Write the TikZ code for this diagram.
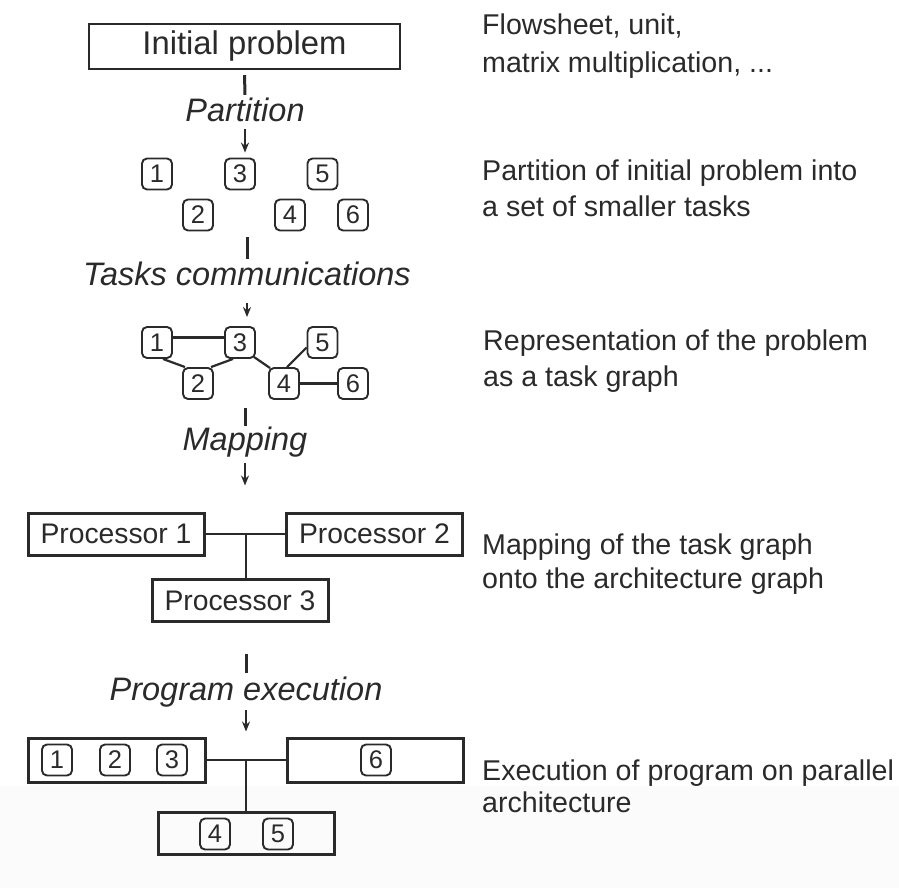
\documentclass[tikz,border=0pt]{standalone}
\usepackage{fontspec}
\setmainfont{Liberation Sans}
\usetikzlibrary{arrows.meta}
\definecolor{ink}{HTML}{2A2A2A}
\begin{document}
\begin{tikzpicture}[x=1pt, y=-1pt,
  every node/.style={text=ink},
  bigbox/.style={draw=ink, line width=2.4pt, minimum width=311pt, minimum height=45pt,
    inner sep=0pt, font=\fontsize{32.8}{36}\selectfont},
  procbox/.style={draw=ink, line width=3pt, minimum width=176pt, minimum height=42pt,
    inner sep=0pt, font=\fontsize{28.3}{32}\selectfont},
  task/.style={draw=ink, line width=1.9pt, rounded corners=5pt, minimum width=30pt,
    minimum height=31pt, inner sep=0pt, font=\fontsize{25.5}{28}\selectfont},
  stagelbl/.style={inner sep=0pt, anchor=base, text height=23pt, text depth=7pt,
    font=\fontsize{32.5}{36}\selectfont\itshape},
  note/.style={anchor=base west, inner sep=0pt, align=left},
  link/.style={draw=ink, line width=2.2pt},
  seg/.style={draw=ink, line width=3pt},
  flow/.style={draw=ink, line width=2pt, -{Stealth[length=10pt,width=8pt]}}
]
\useasboundingbox (0,0) rectangle (899,888);
\fill[black!1.5] (0,786) rectangle (899,888);

% ---- initial problem
\node[bigbox] (init) at (244.5,46.5) {Initial problem};
\node[stagelbl] (lp) at (245,122) {Partition};

% ---- tasks after partition
\node[task] (a1) at (157,174) {1};
\node[task] (a3) at (240,174) {3};
\node[task] (a5) at (322.5,174) {5};
\node[task] (a2) at (198,215) {2};
\node[task] (a4) at (290,215) {4};
\node[task] (a6) at (353,215) {6};
\node[stagelbl] (lt) at (247,285) {Tasks communications};

% ---- task graph
\node[task] (b1) at (157,342.5) {1};
\node[task] (b3) at (240,342.5) {3};
\node[task] (b5) at (322.5,342.5) {5};
\node[task] (b2) at (198,383.5) {2};
\node[task] (b4) at (284,383.5) {4};
\node[task] (b6) at (353,383.5) {6};
\draw[link] ([yshift=5pt]b1.east) -- ([yshift=5pt]b3.west);
\draw[link] ([xshift=6pt]b1.south) -- ([xshift=-13pt]b2.north);
\draw[link] ([xshift=13pt]b2.north) -- ([xshift=-7pt]b3.south);
\draw[link] ([shift={(-2pt,2pt)}]b3.south east) -- ([shift={(2pt,-1pt)}]b4.north west);
\draw[link] ([xshift=3pt]b4.north) -- ([yshift=-5pt]b5.west);
\draw[link] (b4) -- (b6);
\node[stagelbl] (lm) at (245,450) {Mapping};

% ---- architecture graph
\node[procbox] (p1) at (116,534) {Processor 1};
\node[procbox] (p2) at (374.5,534) {Processor 2};
\node[procbox] (p3) at (240,600.5) {Processor 3};
\coordinate (j1) at (246,534);
\draw[link] (p1.east) -- (p2.west);
\draw[link] (j1) -- (j1 |- p3.north);
\node[stagelbl] (lx) at (246,700) {Program execution};

% ---- execution on processors
\node[procbox, minimum width=177pt, minimum height=44pt] (e1) at (116.5,760) {};
\node[procbox, minimum height=44pt] (e2) at (375,760) {};
\node[procbox] (e3) at (246,833) {};
\coordinate (j2) at (246,760);
\draw[link] (e1.east) -- (e2.west);
\draw[link] (j2) -- (j2 |- e3.north);
\node[task] (c1) at (57,760) {1};
\node[task] (c2) at (115,760) {2};
\node[task] (c3) at (172,760) {3};
\node[task] (c6) at (376,760) {6};
\node[task] (c4) at (215,834) {4};
\node[task] (c5) at (278,834) {5};

% ---- stage connectors
\draw[seg, shorten <=5pt, shorten >=4pt] (init.south) -- (lp.north);
\draw[flow, shorten >=5pt] (lp.south) -- (lp.south |- a3.north);
\draw[seg, shorten <=6pt, shorten >=3pt] (lt.north |- a2.south) -- (lt.north);
\draw[flow, shorten <=11pt, shorten >=9pt] (lt.south) -- (lt.south |- b3.north);
\draw[seg, shorten <=8pt, shorten >=1pt] (lm.north |- b2.south) -- (lm.north);
\draw[flow, shorten <=6pt, shorten >=26pt] (lm.south) -- (lm.south |- p1.north);
\draw[seg, shorten <=31pt, shorten >=4pt] (lx.north |- p3.south) -- (lx.north);
\draw[flow, shorten <=3pt, shorten >=5pt] (lx.south) -- (lx.south |- e1.north);

% ---- descriptions (placed by the baseline of their last line)
\node[note, font=\fontsize{28.6}{37.5}\selectfont] (d1) at (482,72.5)
  {Flowsheet, unit,\\matrix multiplication, ...};
\node[note, font=\fontsize{28.6}{36}\selectfont] (d2) at (482,216)
  {Partition of initial problem into\\a set of smaller tasks};
\node[note, font=\fontsize{28.6}{36}\selectfont] (d3) at (483,386.7)
  {Representation of the problem\\as a task graph};
\node[note, font=\fontsize{28.6}{34}\selectfont] (d4) at (482,588)
  {Mapping of the task graph\\onto the architecture graph};
\node[note, font=\fontsize{28.6}{32}\selectfont] (d5) at (482,812)
  {Execution of program on parallel\\architecture};
\end{tikzpicture}
\end{document}
